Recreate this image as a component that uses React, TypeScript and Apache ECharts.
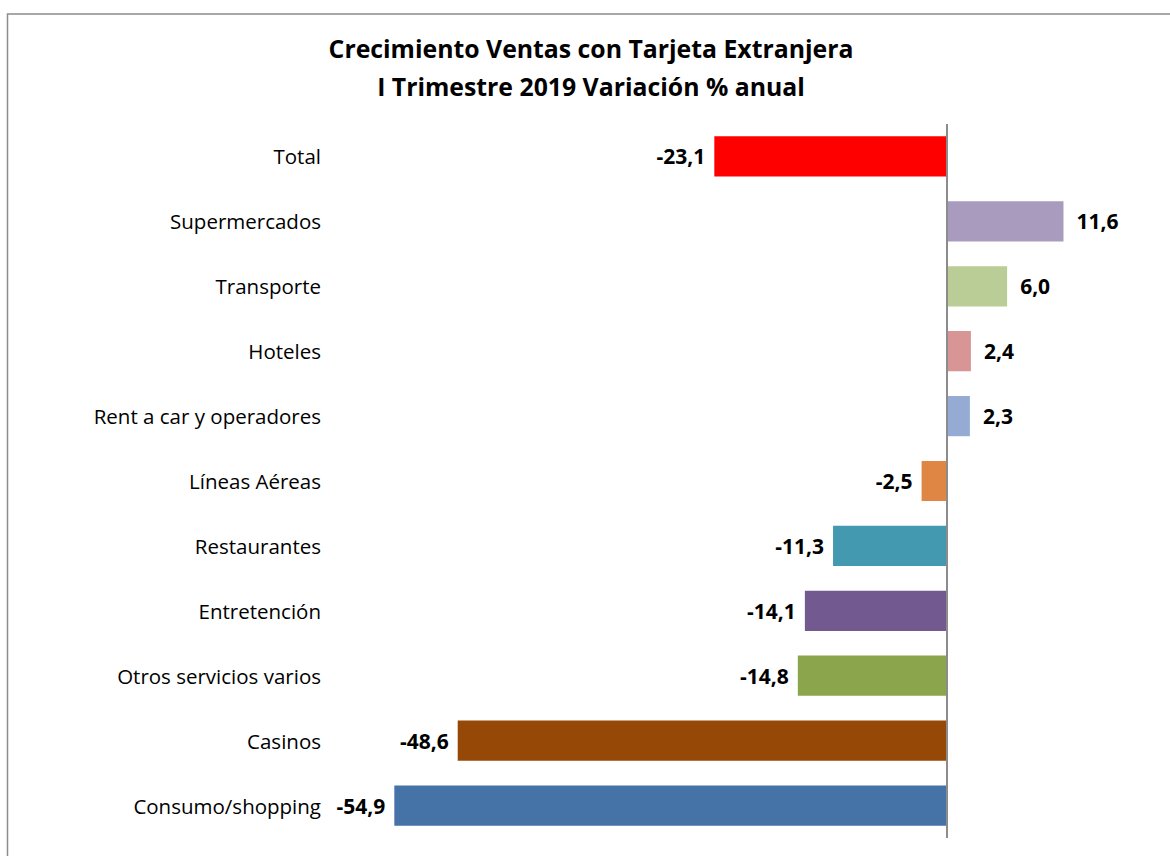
import React, { useEffect, useRef } from "react";
import * as echarts from "echarts";

const titleLines = ["Crecimiento Ventas con Tarjeta Extranjera", "I Trimestre 2019 Variación % anual"];
const categories = [
  "Total",
  "Supermercados",
  "Transporte",
  "Hoteles",
  "Rent a car y operadores",
  "Líneas Aéreas",
  "Restaurantes",
  "Entretención",
  "Otros servicios varios",
  "Casinos",
  "Consumo/shopping",
];
const values = [-23.1, 11.6, 6.0, 2.4, 2.3, -2.5, -11.3, -14.1, -14.8, -48.6, -54.9];
const colors = [
  "#FF0000",
  "#A99BBD",
  "#BACD96",
  "#D79595",
  "#95ABD3",
  "#DF8645",
  "#4299B0",
  "#72598F",
  "#8BA54D",
  "#964806",
  "#4572A7",
];

const FONT = "'Open Sans', Lato, sans-serif";

export default function App() {
  const ref = useRef<HTMLDivElement>(null);
  useEffect(() => {
    if (!ref.current) return;
    const chart = echarts.init(ref.current, null, { renderer: "svg" });
    chart.setOption({
      animation: false,
      backgroundColor: "#ffffff",
      title: {
        text: titleLines.join("\n"),
        left: 586,
        textAlign: "center",
        top: 24,
        textStyle: {
          fontFamily: FONT,
          fontSize: 24.8,
          fontWeight: "bold",
          color: "#000",
          lineHeight: 38,
        },
      },
      graphic: [
        {
          type: "rect",
          shape: { x: 7.5, y: 14, width: 1200, height: 900 },
          style: { fill: "none", stroke: "#8c8c8c", lineWidth: 1.5 },
          silent: true,
        },
      ],
      grid: { left: 343, right: 22, top: 124, bottom: 18, containLabel: false },
      xAxis: {
        type: "value",
        min: -60,
        max: 20,
        show: false,
      },
      yAxis: {
        type: "category",
        data: categories,
        inverse: true,
        axisLine: { show: false },
        axisTick: { show: false },
        axisLabel: {
          fontFamily: FONT,
          fontSize: 20.5,
          color: "#000",
          margin: 22,
        },
      },
      series: [
        {
          type: "bar",
          barCategoryGap: "38%",
          data: values.map((v, i) => ({
            value: v,
            itemStyle: { color: colors[i] },
            label: {
              show: true,
              position: v < 0 ? "left" : "right",
              distance: v < 0 ? 9 : 13,
              formatter: (p: any) => Number(p.value).toFixed(1).replace(".", ","),
              fontFamily: FONT,
              fontSize: 21,
              fontWeight: "bold",
              color: "#000",
            },
          })),
          markLine: {
            silent: true,
            symbol: "none",
            label: { show: false },
            lineStyle: { color: "#8c8c8c", width: 2, type: "solid" },
            data: [{ xAxis: 0 }],
          },
        },
      ],
    });
    return () => chart.dispose();
  }, []);
  return (
    <div
      ref={ref}
      style={{ position: "fixed", left: 0, top: 0, width: 1170, height: 856 }}
    />
  );
}
